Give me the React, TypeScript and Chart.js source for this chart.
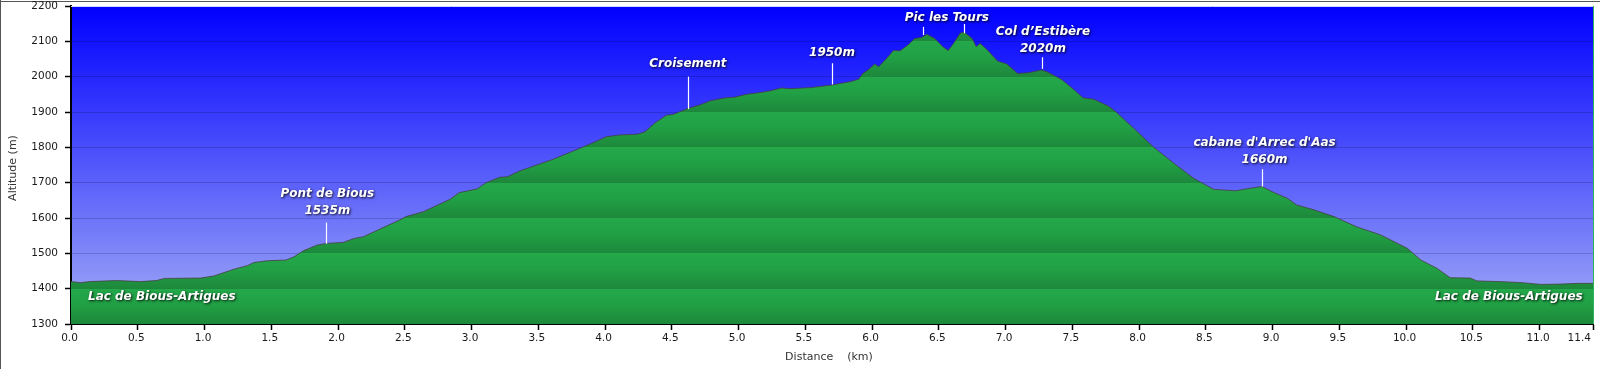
import { useEffect, useRef } from "react";
import Chart from "chart.js/auto";

// Elevation profile (distance in km, altitude in m)
const distKm = [
  0.0, 0.07, 0.14, 0.34, 0.52, 0.64, 0.7, 0.97, 1.07, 1.22, 1.32, 1.37, 1.47, 1.61, 1.67, 1.74, 1.84, 1.91,
  2.04, 2.12, 2.19, 2.31, 2.46, 2.51, 2.64, 2.84, 2.91, 3.04, 3.11, 3.21, 3.27, 3.36, 3.61, 3.81, 3.91, 4.01,
  4.11, 4.24, 4.3, 4.37, 4.46, 4.51, 4.62, 4.71, 4.79, 4.9, 4.97, 5.06, 5.16, 5.24, 5.32, 5.39, 5.54, 5.69,
  5.84, 5.9, 5.93, 5.97, 6.02, 6.05, 6.11, 6.16, 6.21, 6.27, 6.32, 6.37, 6.41, 6.47, 6.53, 6.57, 6.61, 6.66,
  6.69, 6.75, 6.78, 6.81, 6.86, 6.94, 7.01, 7.09, 7.17, 7.27, 7.31, 7.42, 7.51, 7.58, 7.66, 7.77, 7.83, 7.96,
  8.11, 8.26, 8.41, 8.56, 8.72, 8.83, 8.92, 9.01, 9.11, 9.18, 9.31, 9.46, 9.63, 9.81, 10.01, 10.11, 10.23,
  10.33, 10.48, 10.53, 10.7, 10.87, 11.01, 11.16, 11.29, 11.4,
];
const altM = [
  1420, 1417, 1420, 1423, 1420, 1423, 1429, 1430, 1436, 1455, 1465, 1474, 1479, 1481, 1490, 1507, 1523, 1528,
  1531, 1542, 1547, 1568, 1594, 1604, 1618, 1653, 1672, 1682, 1700, 1715, 1717, 1733, 1766, 1797, 1813, 1830,
  1835, 1837, 1844, 1868, 1891, 1893, 1910, 1920, 1932, 1940, 1942, 1950, 1955, 1960, 1968, 1966, 1969, 1976,
  1986, 1993, 2009, 2019, 2036, 2028, 2052, 2074, 2073, 2090, 2108, 2111, 2120, 2108, 2085, 2074, 2094, 2123,
  2126, 2108, 2085, 2094, 2077, 2044, 2036, 2009, 2011, 2019, 2014, 1992, 1964, 1940, 1936, 1917, 1899, 1854,
  1800, 1755, 1712, 1681, 1677, 1684, 1689, 1672, 1656, 1637, 1623, 1604, 1575, 1552, 1514, 1481, 1458,
  1431, 1430, 1422, 1420, 1417, 1412, 1413, 1415, 1415,
];

// Axis ticks
const xTickValues = [0, 0.5, 1, 1.5, 2, 2.5, 3, 3.5, 4, 4.5, 5, 5.5, 6, 6.5, 7, 7.5, 8, 8.5, 9, 9.5, 10, 10.5, 11, 11.4];
const yMin = 1300;
const yMax = 2200;
const yStep = 100;
const xTitle = "Distance    (km)";
const yTitle = "Altitude (m)";

// Waypoint labels (text lines, km of label centre, altitude of first line centre)
const labelLines = [
  ["Pont de Bious", "1535m"],
  ["Croisement"],
  ["1950m"],
  ["Pic les Tours"],
  ["Col d\u2019Estibère", "2020m"],
  ["cabane d'Arrec d'Aas", "1660m"],
  ["Lac de Bious-Artigues"],
  ["Lac de Bious-Artigues"],
];
const labelKm = [1.92, 4.62, 5.7, 6.56, 7.28, 8.94, 0.68, 10.77];
const labelAlt = [1668, 2036, 2068, 2167, 2126, 1814, 1377, 1377];

// Waypoint marker sticks (km, top altitude, base altitude)
const markerKm = [1.91, 4.62, 5.7, 6.38, 6.69, 7.27, 8.92];
const markerTopAlt = [1587, 2000, 2038, 2141, 2149, 2055, 1738];
const markerBaseAlt = [1527, 1908, 1978, 2118, 2123, 2022, 1689];

const FONT = "'DejaVu Sans', Verdana, sans-serif";

export default function App() {
  const ref = useRef<HTMLCanvasElement | null>(null);

  useEffect(() => {
    document.body.style.margin = "0";
    const canvas = ref.current;
    if (!canvas) return;

    const decor = {
      id: "decor",
      beforeDraw(chart: any) {
        const { ctx, chartArea: a, width, height } = chart;
        ctx.save();
        ctx.fillStyle = "#ffffff";
        ctx.fillRect(0, 0, width, height);
        // outer frame
        ctx.strokeStyle = "#555555";
        ctx.lineWidth = 1;
        ctx.beginPath();
        ctx.moveTo(0, 1.5);
        ctx.lineTo(width, 1.5);
        ctx.moveTo(0.5, 0);
        ctx.lineTo(0.5, height);
        ctx.stroke();
        // sky gradient
        const g = ctx.createLinearGradient(0, a.top, 0, a.bottom);
        g.addColorStop(0, "#0000ff");
        g.addColorStop(1, "#a4aef6");
        ctx.fillStyle = g;
        ctx.fillRect(a.left, a.top, a.right - a.left, a.bottom - a.top);
        ctx.restore();
      },
      afterDraw(chart: any) {
        const { ctx, chartArea: a, scales } = chart;
        const xs = scales.x;
        const ys = scales.y;
        ctx.save();
        // top light edge and right green edge
        ctx.strokeStyle = "rgba(235,240,255,0.9)";
        ctx.lineWidth = 1;
        ctx.beginPath();
        ctx.moveTo(a.left, a.top + 0.5);
        ctx.lineTo(a.right, a.top + 0.5);
        ctx.stroke();
        ctx.strokeStyle = "#2fb35a";
        ctx.beginPath();
        ctx.moveTo(a.right + 0.5, a.top);
        ctx.lineTo(a.right + 0.5, a.bottom);
        ctx.stroke();

        // marker sticks
        ctx.strokeStyle = "#ffffff";
        ctx.lineWidth = 1.2;
        for (let i = 0; i < markerKm.length; i++) {
          const x = Math.round(xs.getPixelForValue(markerKm[i])) + 0.5;
          ctx.beginPath();
          ctx.moveTo(x, ys.getPixelForValue(markerTopAlt[i]));
          ctx.lineTo(x, ys.getPixelForValue(markerBaseAlt[i]));
          ctx.stroke();
        }

        // labels
        ctx.font = `italic bold 12px ${FONT}`;
        ctx.textAlign = "center";
        ctx.textBaseline = "middle";
        ctx.fillStyle = "#ffffff";
        ctx.shadowColor = "rgba(0,0,0,0.9)";
        ctx.shadowBlur = 2.5;
        ctx.shadowOffsetX = 1;
        ctx.shadowOffsetY = 1;
        for (let i = 0; i < labelLines.length; i++) {
          const x = xs.getPixelForValue(labelKm[i]);
          const y0 = ys.getPixelForValue(labelAlt[i]);
          labelLines[i].forEach((t, j) => ctx.fillText(t, x, y0 + j * 17));
        }
        ctx.shadowColor = "transparent";
        ctx.shadowBlur = 0;
        ctx.shadowOffsetX = 0;
        ctx.shadowOffsetY = 0;

        // x tick labels
        ctx.font = `10.5px ${FONT}`;
        ctx.fillStyle = "#1a1a1a";
        ctx.textBaseline = "middle";
        xTickValues.forEach((v, i) => {
          const last = i === xTickValues.length - 1;
          ctx.textAlign = last ? "right" : "center";
          const px = last ? a.right - 2 : xs.getPixelForValue(v) - 1.5;
          ctx.fillText(v.toFixed(1), px, a.bottom + 14);
        });

        // axis titles
        ctx.font = `11px ${FONT}`;
        ctx.fillStyle = "#333333";
        ctx.textAlign = "center";
        ctx.fillText(xTitle, (a.left + a.right) / 2 - 3, a.bottom + 33);
        ctx.translate(13, (a.top + a.bottom) / 2 + 3);
        ctx.rotate(-Math.PI / 2);
        ctx.fillText(yTitle, 0, 0);
        ctx.restore();
      },
    };

    const chart = new Chart(canvas, {
      type: "line",
      data: {
        datasets: [
          {
            data: distKm.map((d, i) => ({ x: d, y: altM[i] })),
            borderColor: "rgba(70,60,60,0.75)",
            borderWidth: 1,
            pointRadius: 0,
            tension: 0,
            fill: "start",
            backgroundColor: (c: any) => {
              const ch = c.chart;
              const a = ch.chartArea;
              if (!a) return "#22a747";
              const ys = ch.scales.y;
              const total = a.bottom - a.top;
              const g = ch.ctx.createLinearGradient(0, a.top, 0, a.bottom);
              for (let v = yMax; v > yMin; v -= yStep) {
                const t0 = Math.min(1, Math.max(0, (ys.getPixelForValue(v) - a.top) / total));
                const t1 = Math.min(1, Math.max(0, (ys.getPixelForValue(v - yStep) - a.top) / total));
                g.addColorStop(t0, "#23a84a");
                g.addColorStop(t0 + (t1 - t0) * 0.45, "#21a045");
                g.addColorStop(t1, "#1d883b");
              }
              return g;
            },
          },
        ],
      },
      options: {
        animation: false,
        responsive: false,
        devicePixelRatio: 1,
        layout: { padding: { left: 0, top: 6, right: 7, bottom: 0 } },
        plugins: { legend: { display: false }, tooltip: { enabled: false } },
        scales: {
          x: {
            type: "linear",
            min: 0,
            max: 11.4,
            z: 1,
            afterBuildTicks: (s: any) => {
              s.ticks = xTickValues.map((v) => ({ value: v }));
            },
            afterFit: (s: any) => {
              s.height = 45;
              s.paddingLeft = 0;
              s.paddingRight = 0;
            },
            ticks: { display: false },
            grid: {
              drawOnChartArea: false,
              drawTicks: true,
              tickLength: 6,
              tickColor: "#000000",
              tickWidth: 1.5,
            },
            border: { display: true, color: "#000000", width: 2 },
          },
          y: {
            type: "linear",
            min: yMin,
            max: yMax,
            z: 1,
            afterFit: (s: any) => {
              s.width = 71;
              s.paddingTop = 0;
              s.paddingBottom = 0;
            },
            ticks: {
              stepSize: yStep,
              padding: 7,
              color: "#1a1a1a",
              font: { family: FONT, size: 10.5 },
              callback: (v: any) => String(v),
            },
            grid: {
              drawTicks: true,
              tickLength: 6,
              tickColor: "#000000",
              tickWidth: 1.5,
              color: (c: any) =>
                c.tick && (c.tick.value === yMin || c.tick.value === yMax)
                  ? "rgba(0,0,0,0)"
                  : "rgba(0,0,30,0.18)",
              lineWidth: 1,
            },
            border: { display: true, color: "#000000", width: 2 },
          },
        },
      },
      plugins: [decor],
    });

    return () => chart.destroy();
  }, []);

  return <canvas ref={ref} width={1600} height={369} style={{ display: "block" }} />;
}
